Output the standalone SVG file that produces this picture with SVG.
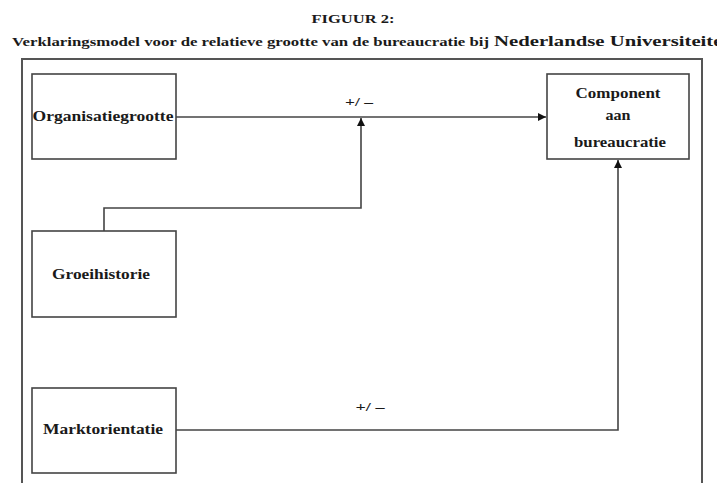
<svg xmlns="http://www.w3.org/2000/svg" width="717" height="483" viewBox="0 0 717 483">
<style>
  text { font-family: "Liberation Serif", "DejaVu Serif", serif; font-weight: bold; fill: #1a1a1a; }
  .box { fill: #ffffff; stroke: #444444; stroke-width: 1.6; }
  .frame { fill: none; stroke: #555555; stroke-width: 2; }
  .conn { fill: none; stroke: #444444; stroke-width: 1.6; }
  .lbl { font-size: 15px; text-anchor: middle; }
  .sign { font-size: 13px; text-anchor: middle; }
</style>
<defs>
  <marker id="arrow" viewBox="0 0 10 10" refX="10" refY="5" markerWidth="8" markerHeight="8" markerUnits="userSpaceOnUse" orient="auto">
    <path d="M0,0 L10,5 L0,10 Z" fill="#111111"/>
  </marker>
</defs>
<rect width="717" height="483" fill="#ffffff"/>

<g id="title">
  <text x="353" y="23" font-size="13.5" text-anchor="middle" textLength="83" lengthAdjust="spacingAndGlyphs">FIGUUR 2:</text>
  <text x="12" y="46" font-size="13.5" textLength="477" lengthAdjust="spacingAndGlyphs">Verklaringsmodel voor de relatieve grootte van de bureaucratie bij</text>
  <text x="494" y="46" font-size="14.5" textLength="240" lengthAdjust="spacingAndGlyphs">Nederlandse Universiteiten</text>
</g>

<rect class="frame" x="22" y="59" width="680" height="430"/>

<g id="connectors">
  <line class="conn" x1="176" y1="117" x2="546" y2="117" marker-end="url(#arrow)"/>
  <polyline class="conn" points="104,231 104,208 361,208 361,118" marker-end="url(#arrow)"/>
  <polyline class="conn" points="176,430 618,430 618,160" marker-end="url(#arrow)"/>
  <text class="sign" x="359" y="106" textLength="28" lengthAdjust="spacingAndGlyphs">+/ –</text>
  <text class="sign" x="370" y="411" textLength="29" lengthAdjust="spacingAndGlyphs">+/ –</text>
</g>

<g id="organisatiegrootte">
  <rect class="box" x="32" y="74" width="144" height="85"/>
  <text class="lbl" x="103" y="121" textLength="141" lengthAdjust="spacingAndGlyphs">Organisatiegrootte</text>
</g>

<g id="groeihistorie">
  <rect class="box" x="32" y="231" width="144" height="86"/>
  <text class="lbl" x="101" y="279" textLength="98" lengthAdjust="spacingAndGlyphs">Groeihistorie</text>
</g>

<g id="marktorientatie">
  <rect class="box" x="32" y="388" width="144" height="85"/>
  <text class="lbl" x="103" y="434" textLength="120" lengthAdjust="spacingAndGlyphs">Marktorientatie</text>
</g>

<g id="component">
  <rect class="box" x="547" y="74" width="142" height="85"/>
  <text class="lbl" x="618" y="98" textLength="85" lengthAdjust="spacingAndGlyphs">Component</text>
  <text class="lbl" x="618" y="120" textLength="25" lengthAdjust="spacingAndGlyphs">aan</text>
  <text class="lbl" x="620" y="147" textLength="92" lengthAdjust="spacingAndGlyphs">bureaucratie</text>
</g>
</svg>
